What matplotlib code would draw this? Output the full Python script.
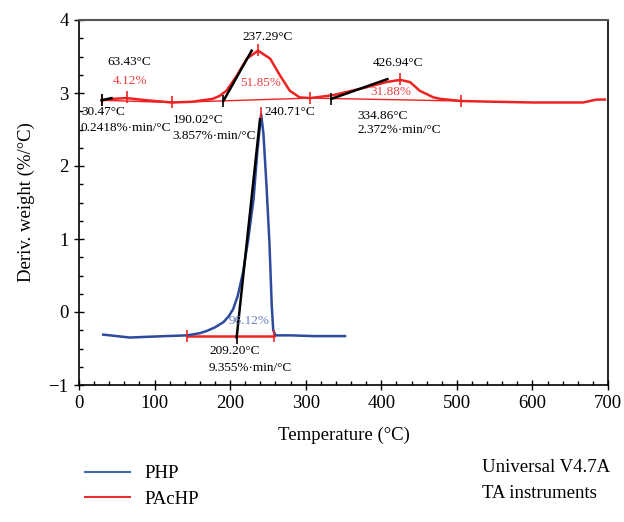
import matplotlib
matplotlib.use('Agg')
import matplotlib.pyplot as plt
from matplotlib.lines import Line2D
from matplotlib.ticker import MultipleLocator

plt.rcParams['font.family'] = ['Liberation Serif', 'DejaVu Serif']
plt.rcParams['mathtext.fontset'] = 'stix'

# DTG curves
php_T = [32, 50, 67, 90, 115, 143, 160, 169, 180, 191, 198, 204, 210, 217, 224, 231, 236, 241, 244, 248, 252, 255, 257, 260, 280, 310, 352]
php_y = [-0.31, -0.33, -0.35, -0.34, -0.33, -0.32, -0.29, -0.26, -0.21, -0.14, -0.06, 0.04, 0.22, 0.54, 1.00, 1.55, 2.20, 2.71, 2.45, 1.75, 0.95, 0.10, -0.25, -0.32, -0.32, -0.33, -0.33]

pachp_T = [30, 45, 63, 90, 123, 150, 177, 186, 195, 209, 222, 237, 253, 266, 279, 292, 306, 336, 381, 407, 425, 438, 451, 469, 478, 506, 550, 601, 640, 667, 685, 696]
pachp_y = [2.90, 2.92, 2.93, 2.90, 2.87, 2.88, 2.92, 2.96, 3.03, 3.24, 3.47, 3.58, 3.47, 3.24, 3.03, 2.94, 2.93, 2.97, 3.08, 3.15, 3.18, 3.15, 3.03, 2.94, 2.92, 2.89, 2.88, 2.87, 2.87, 2.87, 2.91, 2.91]

# integration baselines (x pairs, y pairs) and marker ticks
pachp_base_T = [[30, 123], [123, 306], [306, 506]]
pachp_base_y = [[2.90, 2.87], [2.87, 2.93], [2.93, 2.89]]
pachp_tick_T = [30, 63, 123, 237, 306, 425, 506]
pachp_tick_y = [2.90, 2.94, 2.87, 3.59, 2.93, 3.19, 2.89]
php_base_T = [143, 258]
php_base_y = [-0.33, -0.33]
php_tick_T = [143, 241, 258]
php_tick_y = [-0.33, 2.73, -0.33]

# onset tangent lines
tangent_T = [[30, 43], [191, 228.5], [334, 408], [208.6, 239.5]]
tangent_y = [[2.90, 2.93], [2.89, 3.58], [2.92, 3.19], [-0.35, 2.64]]

# annotations: (T, y, text, colour)
notes = [
    (249, 3.77, '237.29°C', 'black', 'center'),
    (38, 3.42, '63.43°C', 'black', 'left'),
    (44, 3.16, '4.12%', '#f04040', 'left'),
    (213, 3.14, '51.85%', '#f04040', 'left'),
    (2.6, 2.74, '30.47°C', 'black', 'left'),
    (2.6, 2.52, '0.2418%·min/°C', 'black', 'left'),
    (124, 2.63, '190.02°C', 'black', 'left'),
    (124, 2.41, '3.857%·min/°C', 'black', 'left'),
    (246, 2.74, '240.71°C', 'black', 'left'),
    (389, 3.41, '426.94°C', 'black', 'left'),
    (385, 3.01, '31.88%', '#f04040', 'left'),
    (368, 2.68, '334.86°C', 'black', 'left'),
    (368, 2.49, '2.372%·min/°C', 'black', 'left'),
    (198.5, -0.13, '96.12%', '#6a80c0', 'left'),
    (172, -0.53, '209.20°C', 'black', 'left'),
    (172, -0.77, '9.355%·min/°C', 'black', 'left'),
]

blue = '#2d4a9e'
red = '#ee2222'

fig = plt.figure(figsize=(6.24, 5.22), dpi=100)
ax = fig.add_axes([79 / 624, 137 / 522, 529 / 624, 365 / 522])

ax.plot(php_T, php_y, color=blue, lw=1.8, zorder=3)
ax.plot(pachp_T, pachp_y, color=red, lw=1.8, zorder=3)

for bt, by in zip(pachp_base_T, pachp_base_y):
    ax.plot(bt, by, color=red, lw=1.0, zorder=2)
ax.plot(php_base_T, php_base_y, color=red, lw=1.8, zorder=2)
ax.plot(pachp_tick_T, pachp_tick_y, ls='none', marker='|', ms=9, mew=1.2, color=red, zorder=4)
ax.plot(php_tick_T, php_tick_y, ls='none', marker='|', ms=9, mew=1.2, color=red, zorder=4)

for tt, ty in zip(tangent_T, tangent_y):
    ax.plot(tt, ty, color='black', lw=1.8, zorder=5)
    ax.plot(tt[0], ty[0], ls='none', marker='|', ms=8, mew=1.2, color='black', zorder=5)

for x, y, s, c, ha in notes:
    ax.text(x, y, s, color=c, fontsize=9.5, ha=ha, va='center', zorder=6)

ax.set_xlim(0, 700)
ax.set_ylim(-1, 4)
ax.xaxis.set_major_locator(MultipleLocator(100))
ax.xaxis.set_minor_locator(MultipleLocator(20))
ax.yaxis.set_major_locator(MultipleLocator(1))
ax.yaxis.set_minor_locator(MultipleLocator(0.25))
ax.tick_params(which='major', direction='inout', length=7, width=1, labelsize=13.5, pad=4)
ax.tick_params(which='minor', direction='in', length=3, width=1)
ax.set_yticks([-1, 0, 1, 2, 3, 4], ['\u22121', '0', '1', '2', '3', '4'])
ax.spines['top'].set_color('#555555')
ax.spines['top'].set_linewidth(1.5)
for s in ['left', 'bottom', 'right']:
    ax.spines[s].set_linewidth(1.2)

ax.set_xlabel('Temperature (°C)', fontsize=13.5, labelpad=10)
ax.set_ylabel('Deriv. weight (%/°C)', fontsize=13.5, labelpad=10)

fig.text(482 / 624, 1 - 468 / 522, 'Universal V4.7A', fontsize=13.5, va='center', ha='left')
fig.text(482 / 624, 1 - 494 / 522, 'TA instruments', fontsize=13.5, va='center', ha='left')

handles = [Line2D([], [], color='#4466bb', lw=1.5), Line2D([], [], color='#e83030', lw=1.5)]
fig.legend(handles, ['PHP', 'PAcHP'], loc='lower left', bbox_to_anchor=(68 / 624, -0.005),
           frameon=False, fontsize=13.5, handlelength=2.4, labelspacing=0.45)

fig.savefig('out.png', dpi=100)
